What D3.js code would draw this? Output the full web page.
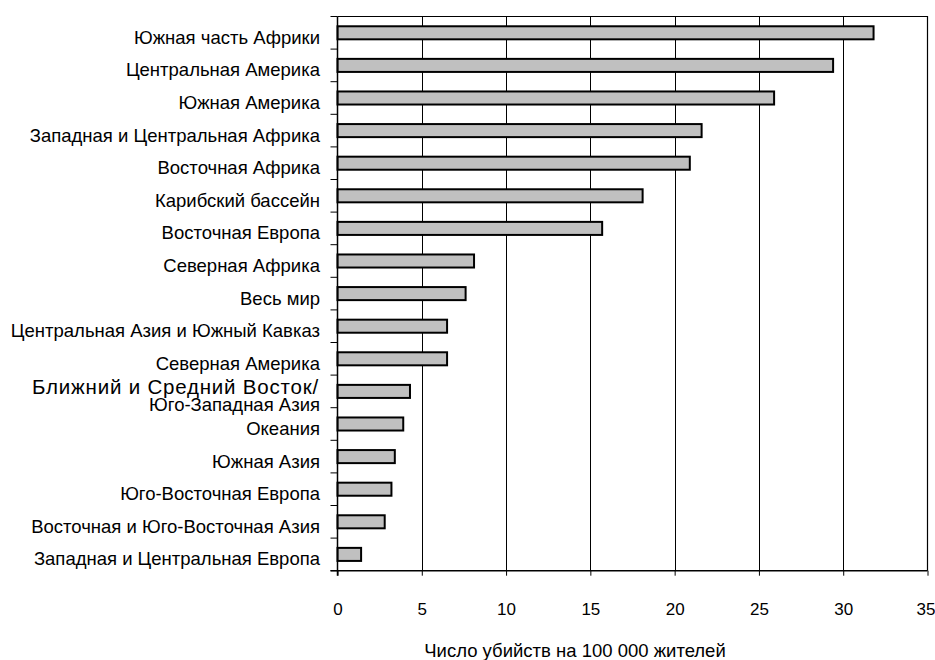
<!DOCTYPE html>
<html>
<head>
<meta charset="utf-8">
<script src="https://cdn.jsdelivr.net/npm/d3@7"></script>
<style>
  html, body { margin: 0; padding: 0; background: #fff; }
  svg { display: block; }
  text { font-family: "Liberation Sans", Arial, sans-serif; fill: #000; }
</style>
</head>
<body>
<svg id="chart" width="935" height="660"></svg>
<script>
const categories = [
  "Южная часть Африки",
  "Центральная Америка",
  "Южная Америка",
  "Западная и Центральная Африка",
  "Восточная Африка",
  "Карибский бассейн",
  "Восточная Европа",
  "Северная Африка",
  "Весь мир",
  "Центральная Азия и Южный Кавказ",
  "Северная Америка",
  "Ближний и Средний Восток/Юго-Западная Азия",
  "Океания",
  "Южная Азия",
  "Юго-Восточная Европа",
  "Восточная и Юго-Восточная Азия",
  "Западная и Центральная Европа"
];
const values = [31.8, 29.4, 25.9, 21.6, 20.9, 18.1, 15.7, 8.1, 7.6, 6.5, 6.5, 4.3, 3.9, 3.4, 3.2, 2.8, 1.4];
const xTicks = [0, 5, 10, 15, 20, 25, 30, 35];
const xTitle = "Число убийств на 100 000 жителей";

const svg = d3.select("#chart");
const mLeft = 337.5, mRight = 927.5, mTop = 16.5, mBottom = 570.7;
const labelFont = 18.5;

const x = d3.scaleLinear().domain([0, 35]).range([mLeft, mRight]);
const y = d3.scaleBand().domain(categories).range([mTop, mBottom]).paddingInner(0.6).paddingOuter(0.3);
const step = y.step();

// gridlines
svg.append("g").selectAll("line")
  .data(xTicks.filter(t => t > 0 && t < 35))
  .join("line")
  .attr("x1", d => Math.round(x(d)) + 0.5).attr("x2", d => Math.round(x(d)) + 0.5)
  .attr("y1", mTop).attr("y2", mBottom)
  .attr("stroke", "#000").attr("stroke-width", 1);

// frame top & right
svg.append("path")
  .attr("d", `M${mLeft},${mTop}H${mRight}V${mBottom}`)
  .attr("fill", "none").attr("stroke", "#000").attr("stroke-width", 1.2);

// bars
svg.append("g").selectAll("rect")
  .data(categories)
  .join("rect")
  .attr("x", x(0))
  .attr("y", d => y(d))
  .attr("width", (d, i) => x(values[i]) - x(0))
  .attr("height", y.bandwidth())
  .attr("fill", "#c0c0c0")
  .attr("stroke", "#000")
  .attr("stroke-width", 2);

// y axis line and ticks at band boundaries
const boundaries = categories.map(c => y(c) - step * 0.3).concat([mBottom]);
svg.append("line")
  .attr("x1", mLeft).attr("x2", mLeft).attr("y1", mTop).attr("y2", mBottom + 5)
  .attr("stroke", "#000").attr("stroke-width", 1.5);
svg.append("g").selectAll("line")
  .data(boundaries)
  .join("line")
  .attr("x1", mLeft - 7).attr("x2", mLeft)
  .attr("y1", d => d).attr("y2", d => d)
  .attr("stroke", "#000").attr("stroke-width", 1);

// x axis
const xAxis = d3.axisBottom(x).tickValues(xTicks).tickSize(5).tickPadding(27).tickFormat(d3.format("d"));
const gx = svg.append("g").attr("transform", `translate(0,${mBottom})`).call(xAxis);
gx.select(".domain").attr("stroke", "#000").attr("stroke-width", 1.5).attr("d", `M${mLeft - 7},0H${mRight}`);
gx.selectAll(".tick line").attr("stroke", "#000");
gx.selectAll(".tick text")
  .attr("font-family", "Liberation Sans, Arial, sans-serif")
  .attr("font-size", 17)
  .attr("dx", d => d === 35 ? -2 : 0);

// category labels
const lab = svg.append("g");
categories.forEach(c => {
  const cy = y(c) + y.bandwidth() / 2;
  if (c.includes("/")) {
    const parts = c.split("/");
    lab.append("text").attr("x", 319).attr("y", cy - 5).attr("dy", "0.36em")
      .attr("text-anchor", "end").attr("font-size", 20.5)
      .style("letter-spacing", "0.8px")
      .text(parts[0] + "/");
    lab.append("text").attr("x", 320).attr("y", cy + 12.8).attr("dy", "0.36em")
      .attr("text-anchor", "end").attr("font-size", labelFont)
      .text(parts[1]);
  } else {
    lab.append("text").attr("x", 320).attr("y", cy + 4.4).attr("dy", "0.36em")
      .attr("text-anchor", "end").attr("font-size", labelFont)
      .text(c);
  }
});

// x title
svg.append("text")
  .attr("x", 575).attr("y", 650).attr("dy", "0.36em")
  .attr("text-anchor", "middle").attr("font-size", labelFont)
  .text(xTitle);
</script>
</body>
</html>
